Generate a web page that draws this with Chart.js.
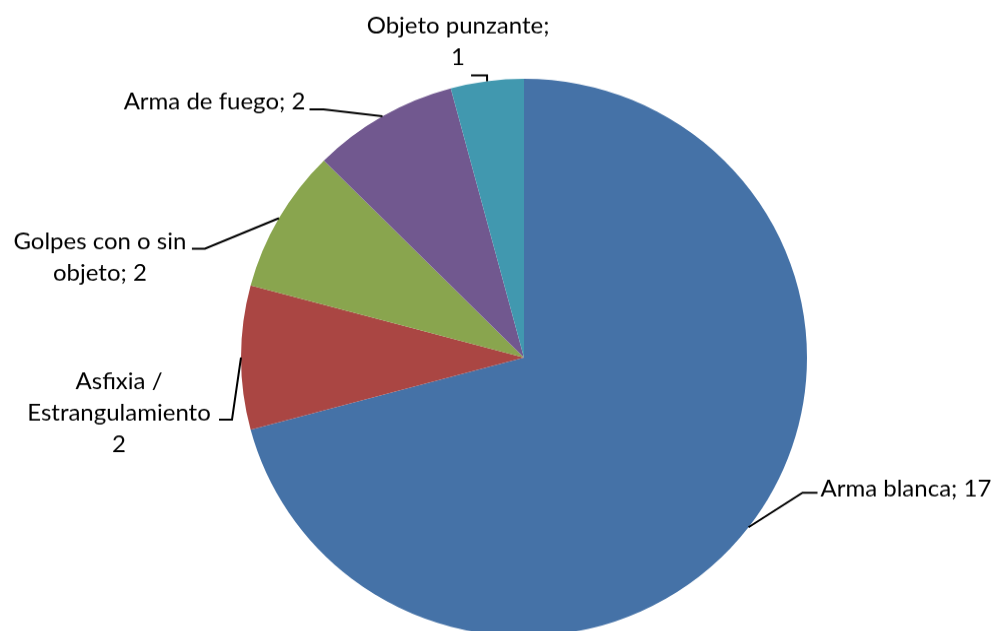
<!DOCTYPE html>
<html>
<head>
<meta charset="utf-8">
<script src="https://cdn.jsdelivr.net/npm/chart.js@4/dist/chart.umd.min.js"></script>
<style>
  html, body { margin: 0; padding: 0; background: #fff; overflow: hidden; }
  #wrap { width: 994px; height: 666px; transform: scaleY(0.985); transform-origin: 0 0; }
</style>
</head>
<body>
<div id="wrap"><canvas id="chart"></canvas></div>
<script>
const categories = ['Arma blanca', 'Asfixia / Estrangulamiento', 'Golpes con o sin objeto', 'Arma de fuego', 'Objeto punzante'];
const values = [17, 2, 2, 2, 1];
const colors = ['#4572A7', '#AA4643', '#89A54E', '#71588F', '#4198AF'];
// label text lines as shown in the picture
const labelLines = [
    ['Arma blanca; 17'],
    ['Asfixia /', 'Estrangulamiento', '2'],
    ['Golpes con o sin', 'objeto; 2'],
    ['Arma de fuego; 2'],
    ['Objeto punzante;', '1']
];

// leader layout relative to the slice's outer mid point
const leaderLayout = [
    { elbow: [54, -35], end: [69, -35], text: [72, -39], align: 'left' },
    { elbow: [-9, 63], end: [-22, 63], text: [-122, 24], align: 'center' },
    { elbow: [-74, 31], end: [-87, 31], text: [-179, 24], align: 'center' },
    { elbow: [-59, -7], end: [-73, -7], text: [-168, -15], align: 'center' },
    { elbow: [0, -6], end: [-16, -6], text: [-29, -56], align: 'center' }
];

const leaderPlugin = {
    id: 'leaders',
    afterDatasetsDraw(chart) {
        const c = chart.ctx;
        const arcs = chart.getDatasetMeta(0).data;
        c.save();
        c.strokeStyle = '#000';
        c.lineWidth = 2;
        c.fillStyle = '#000';
        c.font = '24px Lato';
        c.textBaseline = 'middle';
        arcs.forEach((arc, i) => {
            const mid = (arc.startAngle + arc.endAngle) / 2;
            const px = arc.x + Math.cos(mid) * arc.outerRadius;
            const py = arc.y + Math.sin(mid) * arc.outerRadius;
            const l = leaderLayout[i];
            c.beginPath();
            c.moveTo(px, py);
            c.lineTo(px + l.elbow[0], py + l.elbow[1]);
            c.lineTo(px + l.end[0], py + l.end[1]);
            c.stroke();
            c.textAlign = l.align;
            labelLines[i].forEach((t, k) => {
                c.fillText(t, px + l.text[0], py + l.text[1] + k * 32);
            });
        });
        c.restore();
    }
};

new Chart(document.getElementById('chart'), {
    type: 'pie',
    data: {
        labels: categories,
        datasets: [{
            data: values,
            backgroundColor: colors,
            borderWidth: 0
        }]
    },
    options: {
        responsive: true,
        maintainAspectRatio: false,
        animation: false,
        layout: { padding: { left: 241, right: 187, top: 80, bottom: 20 } },
        plugins: { legend: { display: false }, tooltip: { enabled: false } }
    },
    plugins: [leaderPlugin]
});
</script>
</body>
</html>
